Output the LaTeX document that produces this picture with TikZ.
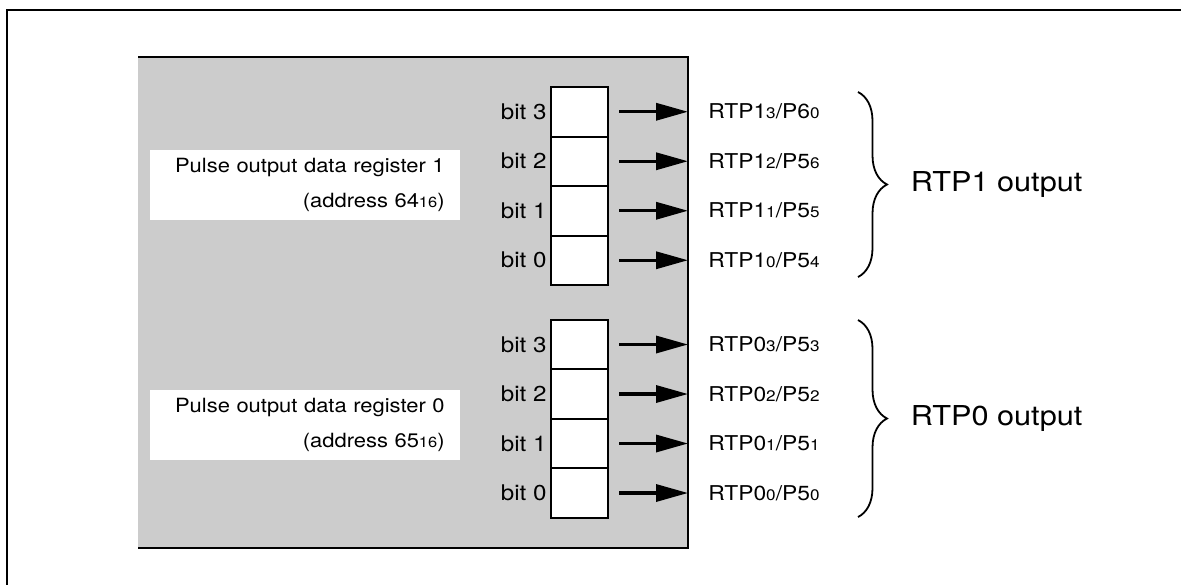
\documentclass[tikz,border=0pt]{standalone}
\usepackage{graphicx}
\usepackage{fontspec}
\setmainfont{TeX Gyre Heros}[FakeStretch=1.12]
\definecolor{regshade}{gray}{0.8}
\usetikzlibrary{arrows.meta,positioning,decorations.pathreplacing}
\newcommand{\sdig}[1]{\scalebox{0.75}{#1}}

\begin{document}
\begin{tikzpicture}[
  x=0.5pt, y=-0.5pt,
  every node/.style={font=\fontsize{10.8}{12}\selectfont},
  cell/.style={draw,line width=1pt,fill=white,minimum width=28.5pt,
               minimum height=24.75pt,inner sep=0pt},
  bitlbl/.style={inner sep=0.5pt},
  pinlbl/.style={anchor=west,inner sep=0pt,font=\fontsize{10.2}{12}\selectfont},
  reglbl/.style={anchor=east,fill=white,align=right,text width=140pt,inner xsep=7.5pt,
                 minimum height=35pt,font=\fontsize{9.8}{17.5}\selectfont},
  arr/.style={-{Triangle[length=16pt,width=8.5pt]},line width=1.7pt,
              shorten <=5pt,shorten >=10pt},
  brc/.style={decorate,decoration={brace,amplitude=14.5pt},line width=0.9pt},
  grplbl/.style={right=26pt,inner sep=0pt,font=\fontsize{13.7}{15}\selectfont},
]
  \useasboundingbox (0,0) rectangle (1181,585);

  % Frame
  \draw[line width=1pt] (1181,10) -- (7,10) -- (7,585);

  % Shaded register area
  \fill[regshade] (138,57) rectangle (688,548);
  \draw[line width=1.3pt] (138,57) -| (688,548) -- (138,548);

  % Register labels
  \node[reglbl] (reg1) at (460,185) {Pulse output data register 1\\(address 64\sdig{16})};
  \node[reglbl] (reg0) at (460,425) {Pulse output data register 0\\(address 65\sdig{16})};

  % Register 1 bits
  \node[cell] (r1b3) at (579.5,111.75) {};
  \node[cell] (r1b2) at (579.5,161.25) {};
  \node[cell] (r1b1) at (579.5,210.75) {};
  \node[cell] (r1b0) at (579.5,260.25) {};
  \node[bitlbl,left=1pt of r1b3] (l13) {bit 3};
  \node[bitlbl,left=1pt of r1b2] (l12) {bit 2};
  \node[bitlbl,left=1pt of r1b1] (l11) {bit 1};
  \node[bitlbl,left=1pt of r1b0] (l10) {bit 0};

  % Register 0 bits
  \node[cell] (r0b3) at (579.5,344.5) {};
  \node[cell] (r0b2) at (579.5,394) {};
  \node[cell] (r0b1) at (579.5,443.5) {};
  \node[cell] (r0b0) at (579.5,493) {};
  \node[bitlbl,left=1pt of r0b3] (l03) {bit 3};
  \node[bitlbl,left=1pt of r0b2] (l02) {bit 2};
  \node[bitlbl,left=1pt of r0b1] (l01) {bit 1};
  \node[bitlbl,left=1pt of r0b0] (l00) {bit 0};

  % Pins
  \node[pinlbl] (p13) at (708,111.75) {RTP1\sdig{3}/P6\sdig{0}};
  \node[pinlbl] (p12) at (708,161.25) {RTP1\sdig{2}/P5\sdig{6}};
  \node[pinlbl] (p11) at (708,210.75) {RTP1\sdig{1}/P5\sdig{5}};
  \node[pinlbl] (p10) at (708,260.25) {RTP1\sdig{0}/P5\sdig{4}};
  \node[pinlbl] (p03) at (708,344.5) {RTP0\sdig{3}/P5\sdig{3}};
  \node[pinlbl] (p02) at (708,394) {RTP0\sdig{2}/P5\sdig{2}};
  \node[pinlbl] (p01) at (708,443.5) {RTP0\sdig{1}/P5\sdig{1}};
  \node[pinlbl] (p00) at (708,493) {RTP0\sdig{0}/P5\sdig{0}};

  % Bits -> pins
  \draw[arr] (r1b3) -- (p13);
  \draw[arr] (r1b2) -- (p12);
  \draw[arr] (r1b1) -- (p11);
  \draw[arr] (r1b0) -- (p10);
  \draw[arr] (r0b3) -- (p03);
  \draw[arr] (r0b2) -- (p02);
  \draw[arr] (r0b1) -- (p01);
  \draw[arr] (r0b0) -- (p00);

  % Output groups
  \coordinate (g1top) at (858,92);
  \coordinate (g1bot) at (858,277);
  \coordinate (g0top) at (858,320);
  \coordinate (g0bot) at (858,517);
  \draw[brc] (g1top) -- (g1bot) node[grplbl,midway] (g1) {RTP1 output};
  \draw[brc] (g0top) -- (g0bot) node[grplbl,midway] (g0) {RTP0 output};
\end{tikzpicture}
\end{document}
